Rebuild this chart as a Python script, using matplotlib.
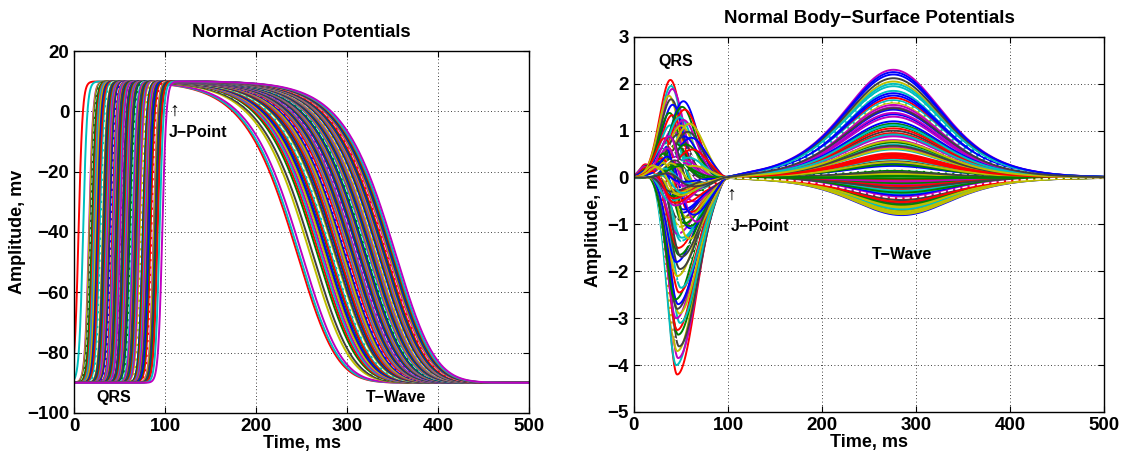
import numpy as np
import matplotlib.pyplot as plt

plt.rcParams['font.family'] = ['Liberation Sans', 'DejaVu Sans']
plt.rcParams['font.weight'] = 'bold'
plt.rcParams['axes.titleweight'] = 'bold'
plt.rcParams['axes.labelweight'] = 'bold'

# --- action potentials: upstroke (-40 mV) time and repolarisation (-40 mV) time, ms
act_time = [5, 10, 16.5, 17, 18, 18.5, 19.5, 21, 22, 23.5, 24, 25.5, 26, 27, 27.5, 29,
             30, 31.5, 32, 33.5, 34, 35, 36, 37, 38.5, 39, 40.5, 41, 42, 43, 44, 45.5,
             46, 47.5, 48, 49, 50, 51, 52.5, 53, 54.5, 55, 56, 57, 58, 59.5, 60, 61.5,
             62, 63, 64, 65, 66.5, 67, 68.5, 69, 70, 71, 72, 73.5, 74, 75.5, 76, 77,
             78, 79, 80.5, 81, 82.5, 84, 85, 86, 87.5, 88, 89, 90.5, 91, 92, 94, 97]
rep_time = [238, 240, 243, 252, 255, 258, 260, 262, 264, 266, 268, 270, 271, 273, 274, 276,
            277, 279, 280, 282, 283, 284, 286, 287, 288, 290, 291, 292, 293, 295, 296, 297,
            298, 299, 300, 301, 302, 303, 304, 305, 306, 307, 308, 309, 310, 311, 312, 313,
            314, 315, 316, 317, 318, 319, 320, 321, 322, 323, 324, 325, 326, 327, 328, 329,
            330, 331, 332, 333, 334, 335, 336, 337, 338, 339, 340, 341, 342, 343, 344, 346]

# --- body-surface leads: R time, R amp, S time, S depth, T amp (ms / mV)
r_time = [13, 12, 14, 13, 15, 12, 14, 13, 16, 12, 14, 13, 15, 12, 14, 13, 16, 12, 14, 13,
          15, 12, 14, 13, 16, 14, 13, 15,
          39, 40, 41, 38, 40, 42, 39, 41, 40, 42, 38, 40,
          53, 52, 54, 50, 53, 51, 49, 54, 48, 52, 50, 55,
          59, 58, 61, 57, 62, 60, 56, 63,
          32, 36, 30, 34, 28, 38, 33, 40, 29, 35, 31, 37, 42, 39, 27, 41,
          20, 25, 18, 30, 22, 45, 26, 48, 21, 35, 24, 42, 19, 28, 50, 23, 33, 46, 27, 44]
r_amp = [0.30, 0.25, 0.28, 0.20, 0.22, 0.15, 0.26, 0.18, 0.12, 0.24, 0.10, 0.20, 0.16, 0.08,
         0.22, 0.12, 0.18, 0.06, 0.14, 0.10, 0.20, 0.05, 0.12, 0.08, 0.10, 0.05, 0.15, 0.08,
         2.10, 2.00, 1.90, 1.80, 1.70, 1.60, 1.45, 1.35, 1.20, 1.05, 0.85, 0.65,
         1.65, 1.55, 1.45, 1.35, 1.25, 1.15, 1.00, 0.90, 0.80, 0.70, 0.55, 0.40,
         1.15, 1.00, 0.85, 0.75, 0.60, 0.45, 0.35, 0.25,
         0.60, 0.80, 0.40, 0.90, 0.30, 0.70, 0.50, 0.95, 0.35, 0.60, 0.45, 0.75, 1.10, 0.50,
         0.25, 0.60,
         0.15, 0.20, 0.10, 0.25, 0.30, 0.40, 0.12, 0.30, 0.18, 0.22, 0.08, 0.35, 0.05, 0.15,
         0.25, 0.20, 0.10, 0.45, 0.28, 0.15]
s_time = [46, 45, 47, 46, 48, 45, 47, 46, 49, 45, 48, 46, 47, 44, 48, 50, 47, 46, 49, 45,
          48, 47, 50, 46, 49, 48, 51, 47,
          58, 57, 59, 56, 58, 60, 57, 59, 56, 60, 55, 57,
          66, 65, 67, 63, 66, 64, 62, 67, 61, 65, 63, 68,
          70, 70, 72, 69, 72, 71, 68, 72,
          53, 55, 52, 56, 50, 57, 54, 58, 51, 56, 53, 57, 58, 55, 50, 57,
          40, 45, 38, 48, 42, 60, 44, 62, 41, 52, 43, 58, 39, 47, 64, 42, 50, 60, 46, 56]
s_amp = [4.20, 4.00, 3.85, 3.70, 3.60, 3.45, 3.35, 3.25, 3.10, 3.00, 2.90, 2.80, 2.70, 2.60,
         2.45, 2.35, 2.20, 2.10, 1.95, 1.80, 1.65, 1.50, 1.35, 1.20, 1.05, 0.90, 0.75, 0.60,
         0.10, 0.20, 0.05, 0.30, 0.15, 0.25, 0.40, 0.10, 0.35, 0.20, 0.50, 0.30,
         0.05, 0.10, 0.00, 0.15, 0.05, 0.10, 0.20, 0.05, 0.25, 0.10, 0.15, 0.05,
         0.00, 0.05, 0.00, 0.10, 0.00, 0.05, 0.10, 0.00,
         1.50, 1.20, 1.00, 0.80, 1.30, 0.60, 0.90, 0.50, 0.70, 1.10, 0.55, 0.40, 1.20, 1.45,
         1.70, 0.95,
         0.40, 0.30, 0.50, 0.20, 0.35, 0.10, 0.25, 0.05, 0.45, 0.15, 0.60, 0.20, 0.30, 0.10,
         0.00, 0.55, 0.35, 0.15, 0.40, 0.25]
t_amp = [0.45, -0.35, 0.90, 1.60, -0.60, 0.20, 1.15, -0.10, 0.70, 2.30,
         -0.75, 0.35, 1.35, 0.05, -0.45, 1.85, 0.55, -0.20, 1.00, -0.80,
         0.15, 1.70, -0.30, 0.80, 2.05, -0.55, 0.30, 1.25, -0.05, 0.60,
         1.50, -0.65, 0.10, 2.20, -0.40, 0.95, 0.40, -0.15, 1.40, -0.70,
         0.25, 1.10, -0.25, 1.95, 0.65, -0.50, 0.50, 1.80, -0.12, 0.85,
         -0.68, 1.30, 0.08, 2.12, -0.38, 0.75, 1.05, -0.28, 1.55, -0.78,
         0.18, 1.20, -0.58, 0.42, 1.65, -0.08, 0.62, -0.48, 1.45, 0.28,
         -0.18, 1.90, 0.88, -0.62, 0.12, 1.75, -0.32, 0.52, 2.00, -0.42,
         0.33, -0.22, 1.62, 0.02, -0.52, 0.92, 1.38, -0.72, 0.68, 2.25,
         -0.02, 0.48, 1.12, -0.44, 0.78, 1.48]

# matlab-ish default colour order
colors = [(0, 0, 1), (0, 0.5, 0), (1, 0, 0), (0, 0.75, 0.75),
          (0.75, 0, 0.75), (0.75, 0.75, 0), (0.25, 0.25, 0.25)]

t = np.linspace(0, 500, 2001)


def sig(x):
    return 1 / (1 + np.exp(-np.clip(x, -60, 60)))


def action_potential(ta, tr):
    up = sig((t - ta) / 2.2)
    tm = tr - 32 * np.log(2 ** (1 / 3) - 1)
    down = (1 + np.exp(np.clip((t - tm) / 32, -60, 60))) ** -3
    return -90 + 100 * up * down


def surface_potential(rt, ra, st, sa, ta):
    rw = 4 + 0.2 * rt
    r = ra * np.exp(-0.5 * ((t - rt) / rw) ** 2)
    sw = np.where(t < st, 10, 20)
    s = -sa * np.exp(-0.5 * ((t - st) / sw) ** 2)
    qrs = (r + s) * sig(-(t - 94) / 2.5)
    tp = 276 if ta > 0 else 285
    tw = ta / np.cosh((t - tp) / 71.5) ** 2 * sig((t - 105) / 6)
    return qrs + tw


def draw(ax, i, y):
    if i % 11 == 5:
        # a few white dashed traces, as in the original
        ax.plot(t, y, color='w', lw=1.0, ls='--')
    else:
        ax.plot(t, y, color=colors[(i + 2) % 7], lw=1.4)


def dress(ax):
    ax.set_xlim(0, 500)
    ax.set_xticks(range(0, 501, 100))
    ax.set_axisbelow(True)
    ax.grid(True, color='k', linestyle=(0, (1, 3)), linewidth=0.6)
    ax.tick_params(direction='in', top=True, right=True, length=4, width=0.8,
                   labelsize=13.5)
    for sp in ax.spines.values():
        sp.set_linewidth(1.0)
    ax.set_xlabel('Time, ms', fontsize=13, labelpad=0)


fig = plt.figure(figsize=(11.28, 4.57), dpi=100)
ax1 = fig.add_axes([0.0656, 0.0963, 0.4034, 0.7921])
ax2 = fig.add_axes([0.562, 0.0985, 0.4167, 0.8206])

# left: action potentials
for i, (ta, tr) in enumerate(zip(act_time, rep_time)):
    draw(ax1, i, action_potential(ta, tr))
dress(ax1)
ax1.set_ylabel('Amplitude, mv', fontsize=13, labelpad=1)
ax1.set_ylim(-100, 20)
ax1.set_yticks(range(-100, 21, 20))
ax1.set_title('Normal Action Potentials', fontsize=13.3, pad=10)
ax1.text(110, 0, '\u2191', fontsize=14, fontweight='normal', ha='center', va='center')
ax1.text(104, -7, 'J\u2212Point', fontsize=11.5, ha='left', va='center')
ax1.text(44, -95, 'QRS', fontsize=11.5, ha='center', va='center')
ax1.text(354, -95, 'T\u2212Wave', fontsize=11.5, ha='center', va='center')

# right: body-surface potentials
for i, (rt, ra, st, sa, ta) in enumerate(zip(r_time, r_amp, s_time, s_amp, t_amp)):
    draw(ax2, i, surface_potential(rt, ra, st, sa, ta))
dress(ax2)
ax2.set_ylabel('Amplitude, mv', fontsize=13)
ax2.set_ylim(-5, 3)
ax2.set_yticks(range(-5, 4))
ax2.set_title('Normal Body\u2212Surface Potentials', fontsize=13.5, pad=10)
ax2.text(44, 2.47, 'QRS', fontsize=11.5, ha='center', va='center')
ax2.text(103, -0.37, '\u2191', fontsize=14, fontweight='normal', ha='center', va='center')
ax2.text(103, -1.05, 'J\u2212Point', fontsize=11.5, ha='left', va='center')
ax2.text(285, -1.63, 'T\u2212Wave', fontsize=11.5, ha='center', va='center')

fig.savefig('out.png', dpi=100)
